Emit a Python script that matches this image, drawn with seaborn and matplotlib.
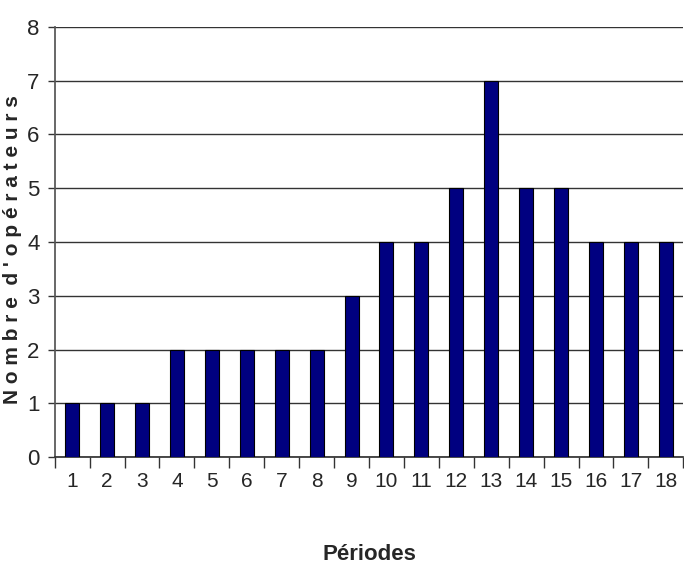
import matplotlib
matplotlib.use("Agg")
import matplotlib.pyplot as plt
import seaborn as sns
import pandas as pd
from matplotlib import font_manager

periods = [str(i) for i in range(1, 19)]
operators = [1, 1, 1, 2, 2, 2, 2, 2, 3, 4, 4, 5, 7, 5, 5, 4, 4, 4]
yticks = list(range(0, 9))

sns.set_theme(style="white")
names = {f.name for f in font_manager.fontManager.ttflist}
fam = "Liberation Sans Narrow" if "Liberation Sans Narrow" in names else "Liberation Sans"
plt.rcParams['font.family'] = [fam, 'DejaVu Sans']

df = pd.DataFrame({"Période": periods, "Opérateurs": operators})

fig = plt.figure(figsize=(6.84, 5.7), dpi=100)
ax = fig.add_axes([0.080, 0.198, 0.919, 0.755])
sns.barplot(data=df, x="Période", y="Opérateurs", color="#000080", width=0.4,
            edgecolor="black", linewidth=0.8, saturation=1, ax=ax, zorder=3)

ax.set_ylim(0, 8)
ax.set_xlim(-0.5, len(periods) - 0.5)
ax.set_yticks(yticks)
ax.set_yticklabels([str(v) for v in yticks], fontsize=16)
for v in yticks:
    ax.axhline(v, color="#333333", linewidth=1.0, zorder=1)

ax.tick_params(axis="x", which="major", length=0, pad=11, labelsize=15)
ax.set_xticks([i - 0.5 for i in range(len(periods) + 1)], minor=True)
ax.tick_params(axis="x", which="minor", length=8, width=1, color="#333333", bottom=True)
ax.tick_params(axis="y", which="major", length=5, width=1, color="#333333", left=True, pad=6)

for s in ["top", "right"]:
    ax.spines[s].set_visible(False)
ax.spines["left"].set_color("#555555")
ax.spines["bottom"].set_color("#333333")

ax.set_ylabel("")
ax.set_xlabel("Périodes", fontsize=16, fontweight="bold", labelpad=38)
fig.text(0.019, 0.563, "N o m b r e  d ' o p é r a t e u r s", rotation=90,
         fontsize=15, fontweight="bold", ha="center", va="center")

fig.savefig("out.png", dpi=100)
